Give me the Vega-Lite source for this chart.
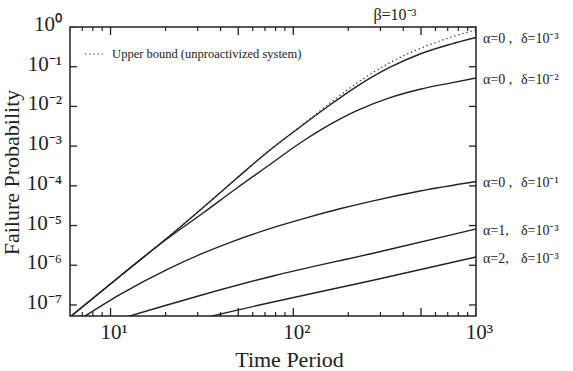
{
  "$schema": "https://vega.github.io/schema/vega-lite/v6.json",
  "width": 406,
  "height": 289,
  "autosize": "none",
  "padding": {"left": 70, "top": 27, "right": 97, "bottom": 55},
  "background": "white",
  "datasets": {
    "xmajor": [{"v": 10}, {"v": 50}, {"v": 100}, {"v": 500}, {"v": 1000}],
    "xminor": [{"v": 7}, {"v": 8}, {"v": 9}, {"v": 20}, {"v": 30}, {"v": 40}, {"v": 60}, {"v": 70}, {"v": 80}, {"v": 90}, {"v": 200}, {"v": 300}, {"v": 400}, {"v": 600}, {"v": 700}, {"v": 800}, {"v": 900}],
    "ymajor": [{"v": 1e-7}, {"v": 1e-6}, {"v": 1e-5}, {"v": 1e-4}, {"v": 1e-3}, {"v": 1e-2}, {"v": 1e-1}, {"v": 1}],
    "xlabels": [{"v": 10, "label": "10¹"}, {"v": 100, "label": "10²"}, {"v": 1000, "label": "10³"}],
    "ylabels": [{"v": 1, "label": "10⁰"}, {"v": 1e-1, "label": "10⁻¹"}, {"v": 1e-2, "label": "10⁻²"}, {"v": 1e-3, "label": "10⁻³"}, {"v": 1e-4, "label": "10⁻⁴"}, {"v": 1e-5, "label": "10⁻⁵"}, {"v": 1e-6, "label": "10⁻⁶"}, {"v": 1e-7, "label": "10⁻⁷"}]
  },
  "data": {
    "values": [
      {"series": "Upper bound (unproactivized system)", "t": 6, "p": 4.98e-8},
      {"series": "Upper bound (unproactivized system)", "t": 11.3, "p": 5.37e-7},
      {"series": "Upper bound (unproactivized system)", "t": 21.2, "p": 5.61e-6},
      {"series": "Upper bound (unproactivized system)", "t": 32.1, "p": 2.85e-5},
      {"series": "Upper bound (unproactivized system)", "t": 49.2, "p": 1.57e-4},
      {"series": "Upper bound (unproactivized system)", "t": 74.6, "p": 8.0e-4},
      {"series": "Upper bound (unproactivized system)", "t": 109, "p": 3.1e-3},
      {"series": "Upper bound (unproactivized system)", "t": 146, "p": 8.97e-3},
      {"series": "Upper bound (unproactivized system)", "t": 223, "p": 0.0389},
      {"series": "Upper bound (unproactivized system)", "t": 339, "p": 0.1277},
      {"series": "Upper bound (unproactivized system)", "t": 494, "p": 0.2875},
      {"series": "Upper bound (unproactivized system)", "t": 721, "p": 0.544},
      {"series": "Upper bound (unproactivized system)", "t": 1000, "p": 0.84},

      {"series": "α=0 ,|δ=10⁻³", "t": 6, "p": 4.98e-8},
      {"series": "α=0 ,|δ=10⁻³", "t": 11.3, "p": 5.37e-7},
      {"series": "α=0 ,|δ=10⁻³", "t": 21.2, "p": 5.61e-6},
      {"series": "α=0 ,|δ=10⁻³", "t": 32.1, "p": 2.85e-5},
      {"series": "α=0 ,|δ=10⁻³", "t": 49.2, "p": 1.57e-4},
      {"series": "α=0 ,|δ=10⁻³", "t": 74.6, "p": 8.0e-4},
      {"series": "α=0 ,|δ=10⁻³", "t": 109, "p": 3.03e-3},
      {"series": "α=0 ,|δ=10⁻³", "t": 146, "p": 8.22e-3},
      {"series": "α=0 ,|δ=10⁻³", "t": 223, "p": 0.0321},
      {"series": "α=0 ,|δ=10⁻³", "t": 339, "p": 0.0972},
      {"series": "α=0 ,|δ=10⁻³", "t": 494, "p": 0.209},
      {"series": "α=0 ,|δ=10⁻³", "t": 721, "p": 0.365},
      {"series": "α=0 ,|δ=10⁻³", "t": 1000, "p": 0.544},

      {"series": "α=0 ,|δ=10⁻²", "t": 6, "p": 4.98e-8},
      {"series": "α=0 ,|δ=10⁻²", "t": 11.3, "p": 5.37e-7},
      {"series": "α=0 ,|δ=10⁻²", "t": 18.7, "p": 3.43e-6},
      {"series": "α=0 ,|δ=10⁻²", "t": 32.1, "p": 2.07e-5},
      {"series": "α=0 ,|δ=10⁻²", "t": 49.2, "p": 8.83e-5},
      {"series": "α=0 ,|δ=10⁻²", "t": 74.6, "p": 3.45e-4},
      {"series": "α=0 ,|δ=10⁻²", "t": 109, "p": 1.2e-3},
      {"series": "α=0 ,|δ=10⁻²", "t": 146, "p": 2.81e-3},
      {"series": "α=0 ,|δ=10⁻²", "t": 223, "p": 7.85e-3},
      {"series": "α=0 ,|δ=10⁻²", "t": 339, "p": 0.0166},
      {"series": "α=0 ,|δ=10⁻²", "t": 494, "p": 0.027},
      {"series": "α=0 ,|δ=10⁻²", "t": 721, "p": 0.0387},
      {"series": "α=0 ,|δ=10⁻²", "t": 1000, "p": 0.052},

      {"series": "α=0 ,|δ=10⁻¹", "t": 7.2, "p": 5.13e-8},
      {"series": "α=0 ,|δ=10⁻¹", "t": 11.3, "p": 1.84e-7},
      {"series": "α=0 ,|δ=10⁻¹", "t": 20.6, "p": 7.96e-7},
      {"series": "α=0 ,|δ=10⁻¹", "t": 30.9, "p": 1.87e-6},
      {"series": "α=0 ,|δ=10⁻¹", "t": 46.8, "p": 4.01e-6},
      {"series": "α=0 ,|δ=10⁻¹", "t": 77.5, "p": 8.83e-6},
      {"series": "α=0 ,|δ=10⁻¹", "t": 109, "p": 1.41e-5},
      {"series": "α=0 ,|δ=10⁻¹", "t": 180, "p": 2.64e-5},
      {"series": "α=0 ,|δ=10⁻¹", "t": 270, "p": 4.13e-5},
      {"series": "α=0 ,|δ=10⁻¹", "t": 494, "p": 7.41e-5},
      {"series": "α=0 ,|δ=10⁻¹", "t": 1000, "p": 1.29e-4},

      {"series": "α=1,|δ=10⁻³", "t": 12.5, "p": 5.13e-8},
      {"series": "α=1,|δ=10⁻³", "t": 18.7, "p": 8.89e-8},
      {"series": "α=1,|δ=10⁻³", "t": 30.9, "p": 1.73e-7},
      {"series": "α=1,|δ=10⁻³", "t": 77.5, "p": 5.37e-7},
      {"series": "α=1,|δ=10⁻³", "t": 270, "p": 1.98e-6},
      {"series": "α=1,|δ=10⁻³", "t": 1000, "p": 8.18e-6},

      {"series": "α=2,|δ=10⁻³", "t": 34.9, "p": 5.13e-8},
      {"series": "α=2,|δ=10⁻³", "t": 77.5, "p": 1.19e-7},
      {"series": "α=2,|δ=10⁻³", "t": 270, "p": 4.13e-7},
      {"series": "α=2,|δ=10⁻³", "t": 1000, "p": 1.61e-6}
    ]
  },
  "layer": [
    {
      "transform": [{"filter": "datum.series != 'Upper bound (unproactivized system)'"}],
      "mark": {"type": "line", "clip": true, "interpolate": "monotone", "color": "#222", "strokeWidth": 1.4},
      "encoding": {
        "x": {"field": "t", "type": "quantitative", "scale": {"type": "log", "domain": [6, 1000], "nice": false}, "axis": null},
        "y": {"field": "p", "type": "quantitative", "scale": {"type": "log", "domain": [5.27e-8, 1], "nice": false}, "axis": null},
        "detail": {"field": "series"}
      }
    },
    {
      "transform": [{"filter": "datum.series == 'Upper bound (unproactivized system)'"}],
      "mark": {"type": "line", "clip": true, "interpolate": "monotone", "color": "#222", "strokeWidth": 1.2, "strokeDash": [1.2, 3]},
      "encoding": {
        "x": {"field": "t", "type": "quantitative", "scale": {"type": "log", "domain": [6, 1000], "nice": false}, "axis": null},
        "y": {"field": "p", "type": "quantitative", "scale": {"type": "log", "domain": [5.27e-8, 1], "nice": false}, "axis": null}
      }
    },
    {
      "data": {"values": [{"label": "Upper bound (unproactivized system)"}]},
      "mark": {"type": "rule", "strokeDash": [1.2, 3], "strokeWidth": 1.2, "color": "#222"},
      "encoding": {
        "x": {"datum": 7.25, "type": "quantitative", "scale": {"type": "log", "domain": [6, 1000], "nice": false}, "axis": null},
        "x2": {"datum": 9.33},
        "y": {"datum": 0.209, "type": "quantitative", "scale": {"type": "log", "domain": [5.27e-8, 1], "nice": false}, "axis": null}
      }
    },
    {
      "data": {"values": [{"label": "Upper bound (unproactivized system)"}]},
      "mark": {"type": "text", "align": "left", "baseline": "middle", "font": "Liberation Serif", "fontSize": 12.5, "color": "#222"},
      "encoding": {
        "x": {"datum": 10.2, "type": "quantitative", "scale": {"type": "log", "domain": [6, 1000], "nice": false}, "axis": null},
        "y": {"datum": 0.209, "type": "quantitative", "scale": {"type": "log", "domain": [5.27e-8, 1], "nice": false}, "axis": null},
        "text": {"field": "label"}
      }
    },
    {
      "data": {"name": "xmajor"},
      "mark": {"type": "tick", "orient": "vertical", "size": 16, "thickness": 1.3, "clip": true, "color": "#222", "opacity": 1},
      "encoding": {
        "x": {"field": "v", "type": "quantitative", "scale": {"type": "log", "domain": [6, 1000], "nice": false}, "axis": null},
        "y": {"datum": 5.27e-8, "type": "quantitative", "scale": {"type": "log", "domain": [5.27e-8, 1], "nice": false}, "axis": null}
      }
    },
    {
      "data": {"name": "xmajor"},
      "mark": {"type": "tick", "orient": "vertical", "size": 16, "thickness": 1.3, "clip": true, "color": "#222", "opacity": 1},
      "encoding": {
        "x": {"field": "v", "type": "quantitative", "scale": {"type": "log", "domain": [6, 1000], "nice": false}, "axis": null},
        "y": {"datum": 1, "type": "quantitative", "scale": {"type": "log", "domain": [5.27e-8, 1], "nice": false}, "axis": null}
      }
    },
    {
      "data": {"name": "xminor"},
      "mark": {"type": "tick", "orient": "vertical", "size": 8, "thickness": 1.2, "clip": true, "color": "#222", "opacity": 1},
      "encoding": {
        "x": {"field": "v", "type": "quantitative", "scale": {"type": "log", "domain": [6, 1000], "nice": false}, "axis": null},
        "y": {"datum": 5.27e-8, "type": "quantitative", "scale": {"type": "log", "domain": [5.27e-8, 1], "nice": false}, "axis": null}
      }
    },
    {
      "data": {"name": "xminor"},
      "mark": {"type": "tick", "orient": "vertical", "size": 8, "thickness": 1.2, "clip": true, "color": "#222", "opacity": 1},
      "encoding": {
        "x": {"field": "v", "type": "quantitative", "scale": {"type": "log", "domain": [6, 1000], "nice": false}, "axis": null},
        "y": {"datum": 1, "type": "quantitative", "scale": {"type": "log", "domain": [5.27e-8, 1], "nice": false}, "axis": null}
      }
    },
    {
      "data": {"name": "ymajor"},
      "mark": {"type": "tick", "orient": "horizontal", "size": 14, "thickness": 1.3, "clip": true, "color": "#222", "opacity": 1},
      "encoding": {
        "x": {"datum": 6, "type": "quantitative", "scale": {"type": "log", "domain": [6, 1000], "nice": false}, "axis": null},
        "y": {"field": "v", "type": "quantitative", "scale": {"type": "log", "domain": [5.27e-8, 1], "nice": false}, "axis": null}
      }
    },
    {
      "data": {"name": "ymajor"},
      "mark": {"type": "tick", "orient": "horizontal", "size": 14, "thickness": 1.3, "clip": true, "color": "#222", "opacity": 1},
      "encoding": {
        "x": {"datum": 1000, "type": "quantitative", "scale": {"type": "log", "domain": [6, 1000], "nice": false}, "axis": null},
        "y": {"field": "v", "type": "quantitative", "scale": {"type": "log", "domain": [5.27e-8, 1], "nice": false}, "axis": null}
      }
    },
    {
      "data": {"name": "xlabels"},
      "mark": {"type": "text", "align": "center", "baseline": "top", "dx": 3.5, "dy": 6.4, "font": "Liberation Serif", "fontSize": 21, "color": "#222"},
      "encoding": {
        "x": {"field": "v", "type": "quantitative", "scale": {"type": "log", "domain": [6, 1000], "nice": false}, "axis": null},
        "y": {"datum": 5.27e-8, "type": "quantitative", "scale": {"type": "log", "domain": [5.27e-8, 1], "nice": false}, "axis": null},
        "text": {"field": "label"}
      }
    },
    {
      "data": {"name": "ylabels"},
      "mark": {"type": "text", "align": "right", "baseline": "middle", "dx": -8, "dy": -2, "font": "Liberation Serif", "fontSize": 21, "color": "#222"},
      "encoding": {
        "x": {"datum": 6, "type": "quantitative", "scale": {"type": "log", "domain": [6, 1000], "nice": false}, "axis": null},
        "y": {"field": "v", "type": "quantitative", "scale": {"type": "log", "domain": [5.27e-8, 1], "nice": false}, "axis": null},
        "text": {"field": "label"}
      }
    },
    {
      "data": {"values": [{"label": "Time Period"}]},
      "mark": {"type": "text", "align": "center", "baseline": "alphabetic", "dy": 51, "font": "Liberation Serif", "fontSize": 22, "color": "#222"},
      "encoding": {
        "x": {"datum": 95.4, "type": "quantitative", "scale": {"type": "log", "domain": [6, 1000], "nice": false}, "axis": null},
        "y": {"datum": 5.27e-8, "type": "quantitative", "scale": {"type": "log", "domain": [5.27e-8, 1], "nice": false}, "axis": null},
        "text": {"field": "label"}
      }
    },
    {
      "data": {"values": [{"label": "Failure Probability"}]},
      "mark": {"type": "text", "align": "center", "baseline": "alphabetic", "angle": 270, "font": "Liberation Serif", "fontSize": 22, "color": "#222"},
      "encoding": {
        "x": {"datum": 3.155, "type": "quantitative", "scale": {"type": "log", "domain": [6, 1000], "nice": false}, "axis": null},
        "y": {"datum": 2.17e-4, "type": "quantitative", "scale": {"type": "log", "domain": [5.27e-8, 1], "nice": false}, "axis": null},
        "text": {"field": "label"}
      }
    },
    {
      "transform": [
        {"filter": "datum.t == 1000 && datum.series != 'Upper bound (unproactivized system)'"},
        {"calculate": "slice(datum.series, 0, indexof(datum.series, '|'))", "as": "alpha"}
      ],
      "mark": {"type": "text", "align": "left", "baseline": "middle", "dx": 7, "dy": 2, "font": "Liberation Serif", "fontSize": 14, "color": "#222"},
      "encoding": {
        "x": {"field": "t", "type": "quantitative", "scale": {"type": "log", "domain": [6, 1000], "nice": false}, "axis": null},
        "y": {"field": "p", "type": "quantitative", "scale": {"type": "log", "domain": [5.27e-8, 1], "nice": false}, "axis": null},
        "text": {"field": "alpha"}
      }
    },
    {
      "transform": [
        {"filter": "datum.t == 1000 && datum.series != 'Upper bound (unproactivized system)'"},
        {"calculate": "slice(datum.series, indexof(datum.series, '|') + 1)", "as": "delta"}
      ],
      "mark": {"type": "text", "align": "left", "baseline": "middle", "dx": 45, "dy": 2, "font": "Liberation Serif", "fontSize": 14, "color": "#222"},
      "encoding": {
        "x": {"field": "t", "type": "quantitative", "scale": {"type": "log", "domain": [6, 1000], "nice": false}, "axis": null},
        "y": {"field": "p", "type": "quantitative", "scale": {"type": "log", "domain": [5.27e-8, 1], "nice": false}, "axis": null},
        "text": {"field": "delta"}
      }
    },
    {
      "data": {"values": [{"label": "β=10⁻³"}]},
      "mark": {"type": "text", "align": "center", "baseline": "alphabetic", "dy": -7, "font": "Liberation Serif", "fontSize": 16, "color": "#222"},
      "encoding": {
        "x": {"datum": 360, "type": "quantitative", "scale": {"type": "log", "domain": [6, 1000], "nice": false}, "axis": null},
        "y": {"datum": 1, "type": "quantitative", "scale": {"type": "log", "domain": [5.27e-8, 1], "nice": false}, "axis": null},
        "text": {"field": "label"}
      }
    }
  ],
  "config": {
    "view": {"stroke": "#222", "strokeWidth": 1.5}
  }
}
